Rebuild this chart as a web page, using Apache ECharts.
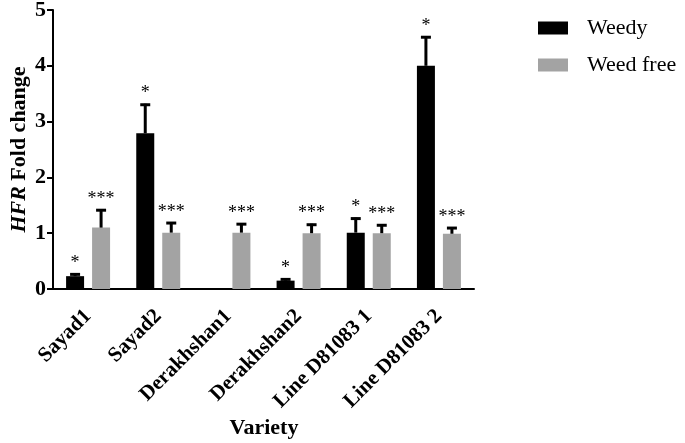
<!DOCTYPE html>
<html><head><meta charset="utf-8">
<script src="https://cdn.jsdelivr.net/npm/echarts@6/dist/echarts.min.js"></script>
<style>html,body{margin:0;padding:0;background:#fff}#c{width:685px;height:443px}</style>
</head><body><div id="c"></div>
<script>
var categories = ['Sayad1','Sayad2','Derakhshan1','Derakhshan2','Line D81083 1','Line D81083 2'];
var weedy = [0.23, 2.79, 0.01, 0.15, 1.01, 4.0];
var weedyErr = [0.05, 0.53, 0, 0.04, 0.27, 0.53];
var weedySig = ['*','*','','*','*','*'];
var weedFree = [1.1, 1.01, 1.01, 1.0, 1.0, 0.99];
var weedFreeErr = [0.33, 0.19, 0.17, 0.17, 0.16, 0.12];
var weedFreeSig = ['***','***','***','***','***','***'];
var yTicks = [0,1,2,3,4,5];

var FONT = '"Liberation Serif", "Times New Roman", serif';
var BARW = 18, OFF = 13;

function errSeries(vals, errs, sigs, dx) {
  var data = vals.map(function(v,i){ return [i, v, v+errs[i]]; });
  return {
    type: 'custom', silent: true, z: 5,
    data: data,
    encode: {x: 0, y: [1,2]},
    renderItem: function(params, api) {
      var i = api.value(0);
      var base = api.coord([i, api.value(1)]);
      var top = api.coord([i, api.value(2)]);
      var x = base[0] + dx;
      var children = [];
      if (api.value(2) > api.value(1)) {
        children.push({type:'line', shape:{x1:x, y1:base[1], x2:x, y2:top[1]}, style:{stroke:'#000', lineWidth:3}});
        children.push({type:'line', shape:{x1:x-5, y1:top[1]+1, x2:x+5, y2:top[1]+1}, style:{stroke:'#000', lineWidth:3}});
      }
      var s = sigs[i];
      if (s) {
        children.push({type:'text', style:{text:s, x:x, y:top[1]-1, textAlign:'center', textVerticalAlign:'bottom', font:'18px ' + FONT, fill:'#000'}});
      }
      return {type:'group', children: children};
    }
  };
}

var chart = echarts.init(document.getElementById('c'));
chart.setOption({
  animation: false,
  grid: {left: 53, right: 211, top: 10, bottom: 154, containLabel: false, outerBoundsMode: 'none'},
  legend: {
    orient: 'vertical', left: 538, top: 17, padding: 0, itemWidth: 30, itemHeight: 13, itemGap: 15,
    icon: 'rect',
    textStyle: {fontFamily: FONT, fontSize: 22, lineHeight: 22, color: '#000', padding: [0,0,0,14]},
    data: ['Weedy','Weed free']
  },
  xAxis: {
    type: 'category', data: categories,
    axisLine: {lineStyle: {color: '#000', width: 2}},
    axisTick: {alignWithLabel: true, length: 6, lineStyle: {width: 2, color: '#000'}},
    axisLabel: {rotate: 45, margin: 24, fontFamily: FONT, fontWeight: 'bold', fontSize: 21, color: '#000'}
  },
  yAxis: {
    type: 'value', min: 0, max: 5, interval: 1,
    name: '{i|HFR} Fold change', nameLocation: 'middle', nameGap: 23, nameRotate: 90, nameMoveOverlap: false,
    nameTextStyle: {fontFamily: FONT, fontWeight: 'bold', fontSize: 22, color: '#000',
      rich: {i: {fontFamily: FONT, fontWeight: 'bold', fontStyle: 'italic', fontSize: 22, color: '#000'}}},
    axisLine: {show: true, lineStyle: {color: '#000', width: 2}},
    axisTick: {show: true, length: 6, lineStyle: {width: 2, color: '#000'}},
    splitLine: {show: false},
    axisLabel: {margin: 7, fontFamily: FONT, fontWeight: 'bold', fontSize: 22, color: '#000'}
  },
  graphic: [{type:'text', x: 264, y: 428, style:{text:'Variety', textAlign:'center', textVerticalAlign:'middle', font:'bold 22px ' + FONT, fill:'#000'}}],
  series: [
    {name: 'Weedy', type: 'bar', data: weedy, barWidth: BARW, barGap: '44.4%', itemStyle: {color: '#000'}},
    {name: 'Weed free', type: 'bar', data: weedFree, barWidth: BARW, barGap: '44.4%', itemStyle: {color: '#a3a3a3'}},
    errSeries(weedy, weedyErr, weedySig, -OFF),
    errSeries(weedFree, weedFreeErr, weedFreeSig, OFF)
  ]
});
</script></body></html>
